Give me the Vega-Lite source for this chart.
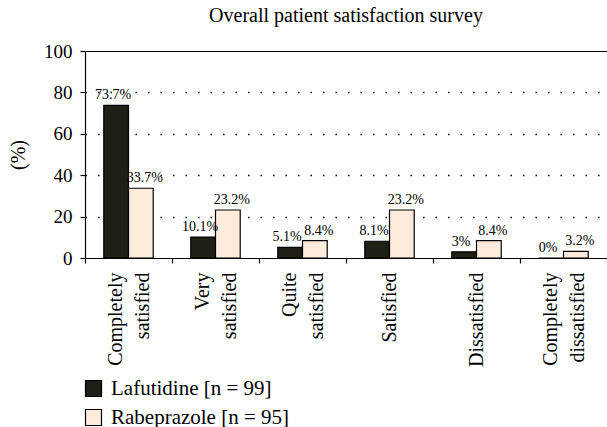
{
  "$schema": "https://vega.github.io/schema/vega-lite/v6.json",
  "width": 522,
  "height": 207,
  "autosize": {"type": "none"},
  "padding": {"left": 85, "top": 51, "right": 0, "bottom": 169},
  "config": {"font": "Liberation Serif", "view": {"stroke": null}},
  "title": {
    "text": "Overall patient satisfaction survey",
    "fontSize": 20,
    "fontWeight": "normal",
    "font": "Liberation Serif",
    "color": "black",
    "anchor": "middle",
    "frame": "group",
    "baseline": "alphabetic",
    "offset": 24,
    "dy": 24
  },
  "data": {
    "values": [
      {"category": "Completely satisfied", "series": "Lafutidine [n = 99]", "value": 73.7, "label": "73.7%"},
      {"category": "Completely satisfied", "series": "Rabeprazole [n = 95]", "value": 33.7, "label": "33.7%"},
      {"category": "Very satisfied", "series": "Lafutidine [n = 99]", "value": 10.1, "label": "10.1%"},
      {"category": "Very satisfied", "series": "Rabeprazole [n = 95]", "value": 23.2, "label": "23.2%"},
      {"category": "Quite satisfied", "series": "Lafutidine [n = 99]", "value": 5.1, "label": "5.1%"},
      {"category": "Quite satisfied", "series": "Rabeprazole [n = 95]", "value": 8.4, "label": "8.4%"},
      {"category": "Satisfied", "series": "Lafutidine [n = 99]", "value": 8.1, "label": "8.1%"},
      {"category": "Satisfied", "series": "Rabeprazole [n = 95]", "value": 23.2, "label": "23.2%"},
      {"category": "Dissatisfied", "series": "Lafutidine [n = 99]", "value": 3, "label": "3%"},
      {"category": "Dissatisfied", "series": "Rabeprazole [n = 95]", "value": 8.4, "label": "8.4%"},
      {"category": "Completely dissatisfied", "series": "Lafutidine [n = 99]", "value": 0, "label": "0%"},
      {"category": "Completely dissatisfied", "series": "Rabeprazole [n = 95]", "value": 3.2, "label": "3.2%"}
    ]
  },
  "encoding": {
    "x": {
      "field": "category",
      "type": "nominal",
      "sort": ["Completely satisfied", "Very satisfied", "Quite satisfied", "Satisfied", "Dissatisfied", "Completely dissatisfied"],
      "scale": {"paddingInner": 0, "paddingOuter": 0},
      "axis": {
        "title": null,
        "labelAngle": -90,
        "labelAlign": "right",
        "labelBaseline": "middle",
        "labelFontSize": 20,
        "labelFont": "Liberation Serif",
        "labelLineHeight": 27,
        "labelPadding": 9,
        "labelColor": "black",
        "labelExpr": "split(datum.label, ' ')",
        "labelOffset": {"condition": {"test": "indexof(datum.label, ' ') >= 0", "value": -13}, "value": 0},
        "tickBand": "extent",
        "tickSize": 5,
        "tickColor": "black",
        "tickWidth": 1.2,
        "domainColor": "black",
        "domainWidth": 1.2
      }
    },
    "xOffset": {
      "field": "series",
      "type": "nominal",
      "sort": ["Lafutidine [n = 99]", "Rabeprazole [n = 95]"],
      "scale": {"paddingInner": 0, "paddingOuter": 0.76}
    },
    "y": {
      "field": "value",
      "type": "quantitative",
      "scale": {"domain": [0, 100], "nice": false},
      "axis": {
        "title": "(%)",
        "values": [0, 20, 40, 60, 80, 100],
        "grid": true,
        "gridColor": "black",
        "gridDash": {"condition": {"test": "datum.value >= 100", "value": []}, "value": [1.5, 11]},
        "gridWidth": {"condition": {"test": "datum.value >= 100", "value": 1.2}, "value": 1.4},
        "gridOpacity": {"condition": {"test": "datum.value <= 0", "value": 0}, "value": 1},
        "domainColor": "black",
        "domainWidth": 1.2,
        "tickColor": "black",
        "tickWidth": 1.2,
        "tickSize": 5,
        "labelFontSize": 19,
        "labelFont": "Liberation Serif",
        "labelColor": "black",
        "labelPadding": 8,
        "titleFontSize": 20,
        "titleFont": "Liberation Serif",
        "titleFontWeight": "normal",
        "titleColor": "black",
        "titlePadding": 15
      }
    }
  },
  "layer": [
    {
      "mark": {"type": "bar", "stroke": "black", "strokeWidth": 1.2},
      "encoding": {
        "color": {
          "field": "series",
          "type": "nominal",
          "scale": {"domain": ["Lafutidine [n = 99]", "Rabeprazole [n = 95]"], "range": ["#1f1e17", "#fdebdc"]},
          "legend": {
            "title": null,
            "orient": "none",
            "legendX": -2,
            "legendY": 327,
            "padding": 0,
            "symbolType": "square",
            "symbolSize": 256,
            "symbolStrokeColor": "black",
            "symbolStrokeWidth": 1.2,
            "symbolOpacity": 1,
            "labelFont": "Liberation Serif",
            "labelFontSize": 21,
            "labelColor": "black",
            "labelOffset": 7,
            "rowPadding": 7,
            "labelLimit": 400
          }
        }
      }
    },
    {
      "transform": [{"filter": "datum.series == 'Lafutidine [n = 99]'"}],
      "mark": {"type": "text", "font": "Liberation Serif", "fontSize": 14, "color": "black", "baseline": "alphabetic", "dy": -6, "dx": -3},
      "encoding": {"text": {"field": "label"}}
    },
    {
      "transform": [{"filter": "datum.series == 'Rabeprazole [n = 95]'"}],
      "mark": {"type": "text", "font": "Liberation Serif", "fontSize": 14, "color": "black", "baseline": "alphabetic", "dy": -6, "dx": 4},
      "encoding": {"text": {"field": "label"}}
    }
  ]
}
